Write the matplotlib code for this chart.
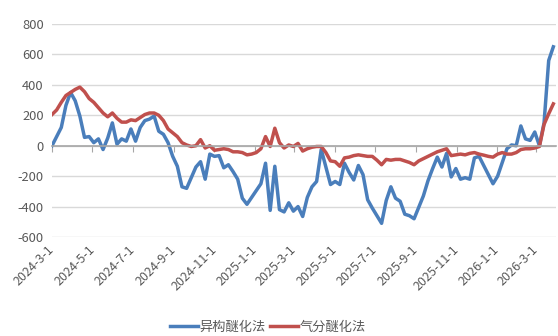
import matplotlib
matplotlib.use("Agg")
import matplotlib.pyplot as plt
import matplotlib.dates as mdates
import numpy as np
import pandas as pd

plt.rcParams['font.family'] = ['Noto Sans CJK SC', 'DejaVu Sans']
plt.rcParams['axes.unicode_minus'] = False

start_date = "2024-03-01"
n_weeks = 109
series_names = ["异构醚化法", "气分醚化法"]

yigou = [0, 60, 120, 265, 350, 295, 195, 55, 60, 20,
         45, -25, 50, 150, 10, 45, 30, 110, 30, 120,
         165, 175, 195, 95, 75, 20, -70, -135, -270, -280,
         -210, -140, -105, -220, -55, -70, -65, -145, -125, -170,
         -220, -345, -385, -340, -295, -250, -115, -425, -135, -420,
         -435, -375, -430, -400, -465, -340, -270, -235, -25, -140,
         -255, -235, -255, -115, -175, -225, -130, -190, -355, -410,
         -460, -510, -360, -270, -345, -365, -450, -460, -480, -405,
         -330, -230, -150, -75, -140, -50, -205, -150, -220, -210,
         -220, -80, -70, -130, -190, -250, -200, -110, -20, 5,
         0, 130, 45, 35, 90, 0, 150, 560, 650]

qifen = [205, 235, 285, 330, 350, 370, 385, 355, 310, 285,
         250, 215, 190, 215, 180, 155, 155, 170, 165, 185,
         205, 215, 215, 200, 165, 110, 85, 60, 20, 5,
         -5, 0, 40, -15, 0, -30, -25, -20, -25, -40,
         -40, -45, -60, -55, -45, -20, 60, -5, 115, 20,
         -15, 5, -5, 15, -35, -20, -10, -5, -5, -45,
         -100, -105, -135, -80, -75, -65, -60, -65, -70, -70,
         -95, -125, -90, -95, -90, -90, -100, -110, -125, -100,
         -85, -70, -55, -40, -30, -20, -65, -60, -55, -60,
         -50, -45, -55, -62, -70, -75, -55, -45, -55, -55,
         -45, -25, -20, -20, -15, -5, 140, 210, 275]

tick_dates = ["2024-3-1", "2024-5-1", "2024-7-1", "2024-9-1", "2024-11-1",
              "2025-1-1", "2025-3-1", "2025-5-1", "2025-7-1", "2025-9-1",
              "2025-11-1", "2026-1-1", "2026-3-1"]
y_ticks = [-600, -400, -200, 0, 200, 400, 600, 800]

dates = pd.date_range(start_date, periods=n_weeks, freq="7D")
tick_pos = pd.to_datetime(tick_dates)

BLUE = "#4A7EBB"
RED = "#C0504D"
TXT = "#595959"

fig = plt.figure(figsize=(5.58, 3.36), dpi=100)
ax = fig.add_axes([0.0932, 0.2946, 0.9032, 0.634])

ax.plot(dates, yigou, color=BLUE, lw=2.5, label=series_names[0], solid_joinstyle="round")
ax.plot(dates, qifen, color=RED, lw=2.5, label=series_names[1], solid_joinstyle="round")

ax.set_ylim(-600, 800)
ax.set_yticks(y_ticks)
ax.set_yticklabels([str(v) for v in y_ticks])
ax.set_xlim(pd.Timestamp(start_date), pd.Timestamp(start_date) + pd.Timedelta(days=760))

ax.grid(axis="y", color="#D9D9D9", lw=1.0)
ax.set_axisbelow(True)
for s in ["top", "right", "left"]:
    ax.spines[s].set_visible(False)
ax.spines["bottom"].set_position(("data", 0))
ax.spines["bottom"].set_color("#A6A6A6")
ax.spines["bottom"].set_linewidth(1.2)

ax.set_xticks(tick_pos)
ax.tick_params(axis="x", direction="out", length=4, color="#A6A6A6", labelbottom=False)
ax.tick_params(axis="y", length=0, labelsize=9.3, labelcolor=TXT, pad=6)

sec = ax.secondary_xaxis(0)
sec.set_xticks(tick_pos)
sec.set_xticklabels(tick_dates)
sec.spines["bottom"].set_visible(False)
sec.tick_params(axis="x", length=0, labelsize=9, labelcolor=TXT, pad=8)
for lab in sec.get_xticklabels():
    lab.set_rotation(45)
    lab.set_ha("right")
    lab.set_va("center")
    lab.set_rotation_mode("anchor")

leg = fig.legend(loc="center", bbox_to_anchor=(0.48, 0.025), ncol=2, frameon=False,
                 fontsize=9.5, handlelength=2.1, handletextpad=0.15, columnspacing=0.3,
                 labelcolor=TXT)

fig.savefig("out.png", dpi=100)
